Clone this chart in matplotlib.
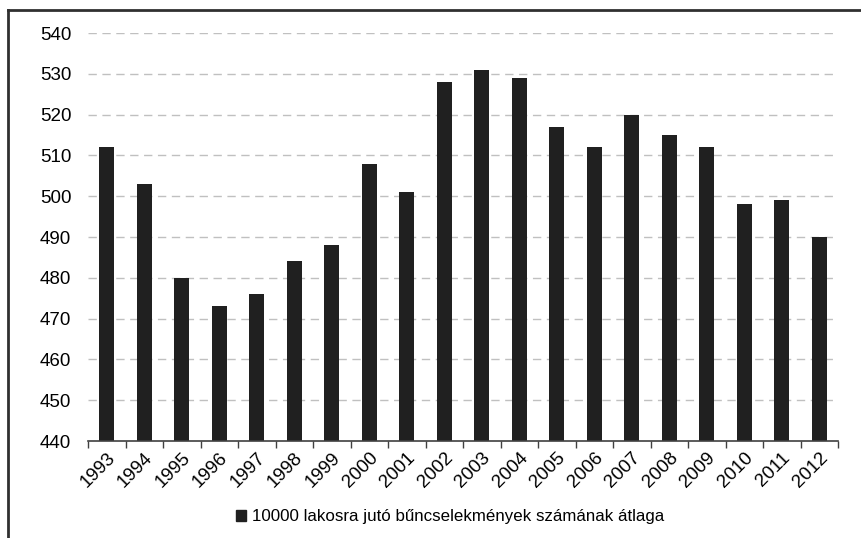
import numpy as np
import matplotlib
matplotlib.use('Agg')
from matplotlib import pyplot as plt
from matplotlib.lines import Line2D
from matplotlib.patches import Patch

plt.rcParams['font.family'] = ['Liberation Sans', 'DejaVu Sans']

years = [str(y) for y in range(1993, 2013)]
values = [512, 503, 480, 473, 476, 484, 488, 508, 501, 528,
          531, 529, 517, 512, 520, 515, 512, 498, 499, 490]
label = "10000 lakosra jutó bűncselekmények számának átlaga"

fig = plt.figure(figsize=(8.61, 5.38), dpi=100)
ax = fig.add_axes([88/861, 1 - 441/538, (838-88)/861, (441-33)/538])

x = np.arange(len(years))
ax.bar(x, values, width=0.4, color='#202020', zorder=3)
ax.set_ylim(440, 540)
ax.set_xlim(-0.5, len(years) - 0.5)
ax.set_yticks(np.arange(440, 541, 10))
ax.tick_params(axis='y', length=0, labelsize=13.5, pad=12, colors='#000000')
for v in range(450, 541, 10):
    ax.axhline(v, color='#c0c0c0', lw=1, ls=(0, (6, 4)), zorder=1)

ax.set_xticks(x)
ax.set_xticklabels(years, rotation=45, ha='right', rotation_mode='anchor', fontsize=13.5)
ax.tick_params(axis='x', length=0, pad=6)
# boundary ticks
ax.set_xticks(np.arange(-0.5, len(years)), minor=True)
ax.tick_params(axis='x', which='minor', length=5, color='#404040', width=1)

for s in ['top', 'right', 'left']:
    ax.spines[s].set_visible(False)
ax.spines['bottom'].set_color('#404040')
ax.spines['bottom'].set_linewidth(1.2)
ax.spines['bottom'].set_zorder(4)

# frame lines of the cropped chart
fig.add_artist(Line2D([8/861, 1], [1 - 10/538, 1 - 10/538], color='#303030', lw=2, transform=fig.transFigure))
fig.add_artist(Line2D([8/861, 8/861], [0, 1 - 10/538], color='#303030', lw=2, transform=fig.transFigure))

fig.legend(handles=[Patch(color='#202020', label=label)], loc='center',
           bbox_to_anchor=(450/861, 1 - 517/538), frameon=False, fontsize=12.2,
           handlelength=0.6, handleheight=0.6, handletextpad=0.3)

fig.savefig('out.png', dpi=100, facecolor='white')
